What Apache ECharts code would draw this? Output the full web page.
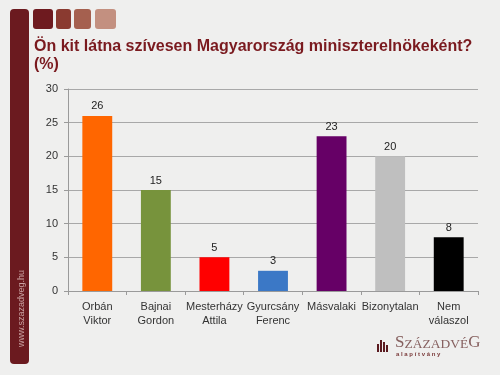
<!DOCTYPE html>
<html><head><meta charset="utf-8">
<script src="https://cdn.jsdelivr.net/npm/echarts@6/dist/echarts.min.js"></script>
<style>html,body{margin:0;padding:0;background:#efefee;}#c{width:500px;height:375px;}</style>
</head><body><div id="c"></div>
<script>
const categories = ['Orbán\nViktor','Bajnai\nGordon','Mesterházy\nAttila','Gyurcsány\nFerenc','Másvalaki','Bizonytalan','Nem\nválaszol'];
const values = [26, 15, 5, 3, 23, 20, 8];
const barColors = ['#ff6600','#77933c','#ff0000','#3b78c6','#660066','#bfbfbf','#000000'];
const yTicks = [0, 5, 10, 15, 20, 25, 30];
const titleText = 'Ön kit látna szívesen Magyarország miniszterelnökeként?\n(%)';

const chart = echarts.init(document.getElementById('c'));
chart.setOption({
  backgroundColor: '#efefee',
  animation: false,
  title: {
    text: titleText, left: 29, top: 33,
    textStyle: {color: '#7a1a1f', fontFamily: 'Liberation Sans, Arial', fontWeight: 'bold', fontSize: 16, lineHeight: 18}
  },
  grid: {left: 68, right: 22, top: 89, bottom: 84},
  xAxis: {
    type: 'category', data: categories,
    axisLine: {lineStyle: {color: '#9a9a9a'}},
    axisTick: {show: true, length: 4, lineStyle: {color: '#9a9a9a'}},
    axisLabel: {color: '#333', fontFamily: 'Liberation Sans, Arial', fontSize: 11, lineHeight: 14, interval: 0, margin: 9}
  },
  yAxis: {
    type: 'value', min: yTicks[0], max: yTicks[yTicks.length-1], interval: 5,
    axisLine: {show: true, lineStyle: {color: '#9a9a9a'}},
    axisTick: {show: true, length: 4, lineStyle: {color: '#9a9a9a'}},
    splitLine: {lineStyle: {color: '#a8a8a8'}},
    axisLabel: {color: '#333', fontFamily: 'Liberation Sans, Arial', fontSize: 11, margin: 10}
  },
  series: [{
    type: 'bar', barWidth: '51%',
    data: values.map((v, i) => ({value: v, itemStyle: {color: barColors[i]}})),
    label: {show: true, position: 'top', color: '#222', fontFamily: 'Liberation Sans, Arial', fontSize: 11, distance: 4}
  }],
  graphic: [
    {type: 'rect', shape: {x: 10, y: 9, width: 19, height: 355, r: 4}, style: {fill: '#6b1a1f'}},
    {type: 'rect', shape: {x: 33, y: 9, width: 20, height: 20, r: 3}, style: {fill: '#6e1a1f'}},
    {type: 'rect', shape: {x: 56, y: 9, width: 15, height: 20, r: 3}, style: {fill: '#8a3a30'}},
    {type: 'rect', shape: {x: 74, y: 9, width: 17, height: 20, r: 3}, style: {fill: '#a5604f'}},
    {type: 'rect', shape: {x: 95, y: 9, width: 21, height: 20, r: 3}, style: {fill: '#c39080'}},
    {type: 'text', x: 17, y: 347, rotation: Math.PI/2, style: {text: 'www.szazadveg.hu', fill: '#c9a0a0', font: '9px Liberation Sans', textVerticalAlign: 'top'}},
    {type: 'rect', shape: {x: 377, y: 344, width: 2, height: 8}, style: {fill: '#5a1a1f'}},
    {type: 'rect', shape: {x: 380, y: 340, width: 2, height: 12}, style: {fill: '#5a1a1f'}},
    {type: 'rect', shape: {x: 383, y: 342, width: 2, height: 10}, style: {fill: '#5a1a1f'}},
    {type: 'rect', shape: {x: 386, y: 345, width: 2, height: 7}, style: {fill: '#5a1a1f'}},
    {type: 'text', x: 395, y: 351, style: {
      text: '{b|S}{s|ZÁZADVÉ}{b|G}', textVerticalAlign: 'bottom',
      rich: {
        b: {fill: '#86605f', font: '17px Liberation Serif', verticalAlign: 'bottom'},
        s: {fill: '#86605f', font: '13.5px Liberation Serif', verticalAlign: 'bottom'}
      }
    }},
    {type: 'text', x: 396, y: 351, style: {text: 'a l a p í t v á n y', fill: '#7a3a3a', font: 'bold 6px Liberation Sans'}}
  ]
});
</script>
</body></html>
